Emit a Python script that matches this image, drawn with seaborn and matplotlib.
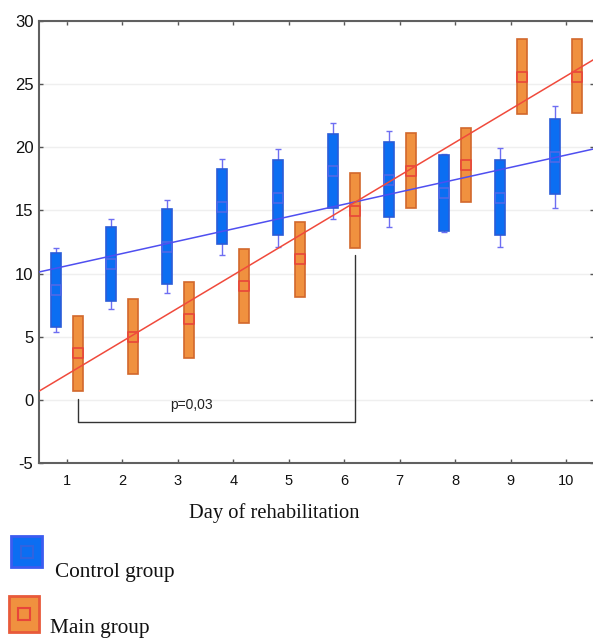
import numpy as np
import pandas as pd
import matplotlib
matplotlib.use("Agg")
import matplotlib.pyplot as plt
import seaborn as sns
from matplotlib.patches import Rectangle
from matplotlib.lines import Line2D

# ---------------------------- dados ----------------------------
days = [1, 2, 3, 4, 5, 6, 7, 8, 9, 10]

# grupo controle (azul)
ctrl_mean = [8.7, 10.77, 12.1, 15.3, 16.0, 18.16, 17.4, 16.36, 16.0, 19.2]
ctrl_box_lo = [5.78, 7.8, 9.18, 12.35, 13.06, 15.18, 14.5, 13.4, 13.06, 16.3]
ctrl_box_hi = [11.66, 13.7, 15.1, 18.26, 19.0, 21.06, 20.43, 19.35, 18.98, 22.25]
ctrl_wh_lo = [5.4, 7.2, 8.45, 11.5, 12.1, 14.3, 13.67, 13.27, 12.09, 15.2]
ctrl_wh_hi = [12.0, 14.3, 15.8, 19.08, 19.9, 21.96, 21.3, 19.48, 19.98, 23.3]

# grupo principal (laranja)
main_mean = [3.7, 5.0, 6.39, 9.05, 11.14, 14.99, 18.16, 18.6, 25.6, 25.6]
main_box_lo = [0.69, 2.06, 3.35, 6.07, 8.18, 12.06, 15.18, 15.65, 22.64, 22.7]
main_box_hi = [6.65, 8.0, 9.3, 11.98, 14.1, 17.95, 21.1, 21.56, 28.55, 28.58]

# colchete de significância
bracket_x = [1.2, 1.2, 6.2, 6.2]
bracket_y = [0.1, -1.75, -1.75, 11.5]
p_label = "p=0,03"

ctrl = pd.DataFrame({"day": days, "mean": ctrl_mean, "lo": ctrl_box_lo, "hi": ctrl_box_hi,
                     "wlo": ctrl_wh_lo, "whi": ctrl_wh_hi})
main = pd.DataFrame({"day": days, "mean": main_mean, "lo": main_box_lo, "hi": main_box_hi})

# ---------------------------- estilo ----------------------------
sns.set_theme(style="white")
plt.rcParams["font.family"] = ["Liberation Sans", "DejaVu Sans"]
plt.rcParams["axes.unicode_minus"] = False

blue_fill, blue_edge, blue_wh, blue_line = "#0B6EF2", "#2A5CD8", "#6E6EF2", "#4F4FF0"
orng_fill, orng_edge, red_mark, red_line = "#F0913F", "#D2682C", "#E8453A", "#F04A3C"

fig = plt.figure(figsize=(5.93, 6.43), dpi=100)
ax = fig.add_axes([39 / 593, (643 - 463) / 643, 555 / 593, 442 / 643])
ax.set_xlim(0.5, 10.5)
ax.set_ylim(-5, 30)

off = 0.2
bw = 0.18

# caixas do grupo controle
xc = ctrl["day"] - off
ax.errorbar(xc, ctrl["mean"], yerr=[ctrl["mean"] - ctrl["wlo"], ctrl["whi"] - ctrl["mean"]],
            fmt="none", ecolor=blue_wh, elinewidth=1.0, capsize=2.5, capthick=1.0, zorder=2)
ax.bar(xc, ctrl["hi"] - ctrl["lo"], bottom=ctrl["lo"], width=bw, color=blue_fill,
       edgecolor=blue_edge, linewidth=1.2, zorder=3)

# caixas do grupo principal
xm = main["day"] + off
ax.bar(xm, main["hi"] - main["lo"], bottom=main["lo"], width=bw, color=orng_fill,
       edgecolor=orng_edge, linewidth=1.2, zorder=3)

# médias
sns.scatterplot(x=xc, y=ctrl["mean"], marker="s", s=45, color=blue_fill, edgecolor="#5068E6",
                linewidth=1.2, ax=ax, zorder=4, legend=False)
sns.scatterplot(x=xm, y=main["mean"], marker="s", s=45, color=orng_fill, edgecolor=red_mark,
                linewidth=1.2, ax=ax, zorder=4, legend=False)

# retas de regressão
sns.regplot(data=ctrl, x="day", y="mean", ci=None, scatter=False, truncate=False, ax=ax,
            line_kws={"color": blue_line, "lw": 1.1, "zorder": 5})
sns.regplot(data=main, x="day", y="mean", ci=None, scatter=False, truncate=False, ax=ax,
            line_kws={"color": red_line, "lw": 1.1, "zorder": 5})
ax.set_xlim(0.5, 10.5)
ax.set_ylim(-5, 30)

# colchete p
ax.plot(bracket_x, bracket_y, color="#333333", lw=1.0, zorder=4)
ax.text(3.25, -0.4, p_label, ha="center", va="center", fontsize=10, color="#222222")

# grade, eixos
ax.set_xticks(days)
ax.set_yticks(np.arange(-5, 31, 5))
ax.yaxis.grid(True, color="#EFEFEF", lw=1.0)
ax.xaxis.grid(False)
ax.set_axisbelow(True)
for s in ["left", "bottom", "top"]:
    ax.spines[s].set_color("#606060")
    ax.spines[s].set_linewidth(1.5)
ax.spines["right"].set_visible(False)
ax.tick_params(axis="both", direction="in", length=3, width=1, color="#555555",
               top=True, right=True, left=True, bottom=True)
ax.tick_params(axis="y", labelsize=12, pad=4, labelcolor="#111111")
ax.tick_params(axis="x", labelsize=10.5, pad=8, labelcolor="#111111")
ax.set_xlabel("")
ax.set_ylabel("")

serif = ["Liberation Serif", "DejaVu Serif"]
fig.text(274 / 593, 1 - 513 / 643, "Day of rehabilitation", ha="center", va="center",
         fontsize=14.8, family=serif, color="#111111")

# legenda manual
def legend_item(x0, y0, w, h, fill, edge, mark, label, tx, ty):
    fig.add_artist(Rectangle((x0 / 593, 1 - (y0 + h) / 643), w / 593, h / 643,
                             transform=fig.transFigure, facecolor=fill, edgecolor=edge, lw=2))
    fig.add_artist(Line2D([(x0 + w / 2) / 593], [1 - (y0 + h / 2) / 643], marker="s",
                          markersize=9, markerfacecolor=fill, markeredgecolor=mark,
                          markeredgewidth=1.5, transform=fig.transFigure))
    fig.text(tx / 593, 1 - ty / 643, label, ha="left", va="center", fontsize=15.3,
             family=serif, color="#111111")

legend_item(11, 536, 31, 31, blue_fill, "#3C5CF0", "#2F63E0", "Control group", 55, 572)
legend_item(9, 596, 30, 36, orng_fill, "#E85A3A", red_mark, "Main group", 50, 629)

fig.savefig("out.png", dpi=100)
